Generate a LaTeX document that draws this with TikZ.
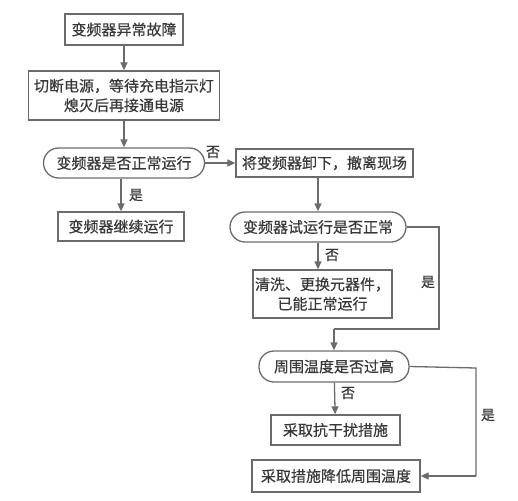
\documentclass[tikz,border=0pt]{standalone}
\usepackage{fontspec}
\setmainfont{Noto Sans CJK SC}[BoldFont={Noto Sans CJK SC},BoldFeatures={FakeBold=0.5}]
\usetikzlibrary{arrows.meta}
\definecolor{ln}{gray}{0.42}
\definecolor{tx}{gray}{0.22}
\begin{document}
\begin{tikzpicture}[x=1pt,y=-1pt,
  box/.style={draw=ln,line width=1.3pt,text=tx,font=\fontsize{15}{19.5}\selectfont\bfseries,inner sep=2pt,align=center},
  decis/.style={box,rounded corners=15pt},
  arr/.style={draw=ln,line width=1.3pt,-{Triangle[length=8pt,width=7pt]}},
  lin/.style={draw=ln,line width=1.3pt},
  lab/.style={text=tx,font=\fontsize{14}{16}\selectfont\bfseries,inner sep=0pt}]
\useasboundingbox (0,0) rectangle (518,500);
\node[box,minimum width=118pt,minimum height=31pt] (b1) at (124,29.5) {变频器异常故障};
\node[box,minimum width=191pt,minimum height=49pt] (b2) at (124,95.5) {切断电源，等待充电指示灯\\熄灭后再接通电源};
\node[decis,minimum width=161pt,minimum height=30pt] (d1) at (124,163) {变频器是否正常运行};
\node[box,minimum width=177pt,minimum height=28pt] (b3) at (324.5,163) {将变频器卸下，撤离现场};
\node[box,minimum width=126pt,minimum height=29pt] (b4) at (121,226.5) {变频器继续运行};
\node[decis,minimum width=176pt,minimum height=30pt] (d2) at (318,227) {变频器试运行是否正常};
\node[box,minimum width=135pt,minimum height=48pt] (b5) at (322.5,294) {清洗、更换元器件，\\已能正常运行};
\node[decis,minimum width=150pt,minimum height=31pt] (d3) at (334,366.5) {周围温度是否过高};
\node[box,minimum width=129pt,minimum height=30pt] (b6) at (335.5,430) {采取抗干扰措施};
\node[box,minimum width=168pt,minimum height=32pt] (b7) at (336,476) {采取措施降低周围温度};
\coordinate (c1) at (439,227);
\coordinate (c2) at (439,329);
\coordinate (c3) at (334,329);
\coordinate (c4) at (476,368);
\coordinate (c5) at (476,476);
\draw[arr] (b1) -- (b2);
\draw[arr] (b2) -- (d1);
\draw[arr] (d1) -- (b3);
\draw[arr] (d1.south -| b4) -- (b4);
\draw[arr] (b3.south -| d2) -- (d2);
\draw[arr] (d2) -- (d2.south |- b5.north);
\draw[lin] (d2.east) -- (c1) -- (c2) -- (c3);
\draw[arr] (c3) -- (d3);
\draw[arr] (d3) -- (b6);
\draw[lin] (d3.east) -- (c4) -- (c5);
\draw[arr] (c5) -- (b7);
\node[lab] (l1) at (213,152) {否};
\node[lab] (l2) at (136,195) {是};
\node[lab] (l3) at (332,255) {否};
\node[lab] (l4) at (428,282) {是};
\node[lab] (l5) at (348,393) {否};
\node[lab] (l6) at (488,415) {是};
\end{tikzpicture}
\end{document}
